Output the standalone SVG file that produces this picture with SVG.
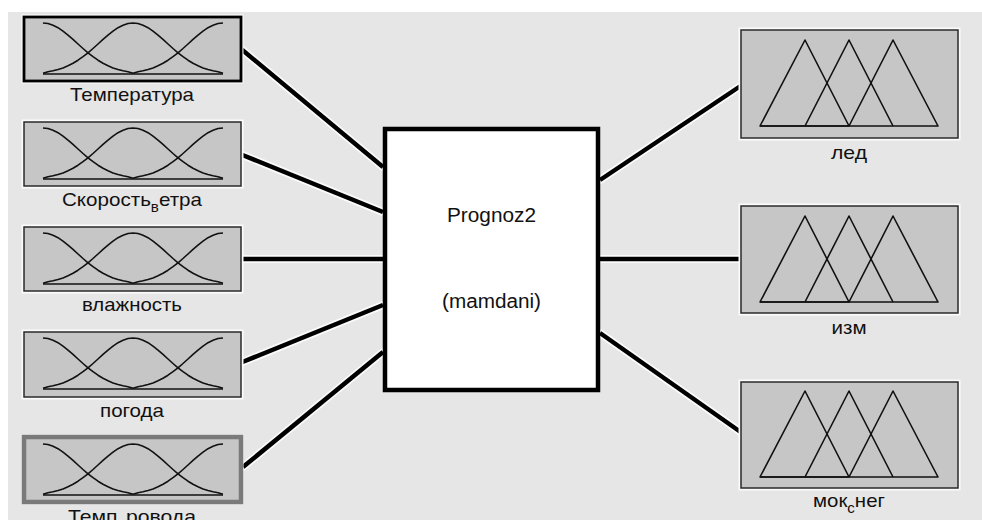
<svg xmlns="http://www.w3.org/2000/svg" width="982" height="520" viewBox="0 0 982 520">
<defs>
<style>
.bg{fill:#e6e6e6}
.in{fill:#c6c6c6;stroke:#2a2a2a;stroke-width:1.5}
.out{fill:#c6c6c6;stroke:#2a2a2a;stroke-width:1.5}
.halo{fill:none;stroke:#fbfbfb;stroke-width:5}
.mf{fill:none;stroke:#111;stroke-width:1.6;stroke-linejoin:round}
.lbl{font-family:"Liberation Sans",Arial,sans-serif;font-size:19px;fill:#111;text-anchor:middle}
.sub{font-size:14px}
.ctr{font-family:"Liberation Sans",Arial,sans-serif;font-size:20px;fill:#111;text-anchor:middle}
.wire-h{fill:none;stroke:#fbfbfb;stroke-width:8;stroke-linecap:round}
.wire{fill:none;stroke:#000;stroke-width:4.5}
</style>
<g id="gauss">
<path class="mf" d="M43,0 L48,0.55 L53,2.2 L58,4.7 L63,8.1 L68,12.1 L73,16.4 L78,21 L83,25.5 L88,29.8 L93,33.7 L98,37.2 L103,40.3 L108,42.8 L113,44.9 L118,46.5 L123,47.8 L128,48.8 L133,50.3"/>
<path class="mf" d="M43,50.3 L48,48.8 L53,47.8 L58,46.5 L63,44.9 L68,42.8 L73,40.3 L78,37.2 L83,33.7 L88,29.8 L93,25.5 L98,21 L103,16.4 L108,12.1 L113,8.1 L118,4.7 L123,2.2 L128,0.55 L133,0 L138,0.55 L143,2.2 L148,4.7 L153,8.1 L158,12.1 L163,16.4 L168,21 L173,25.5 L178,29.8 L183,33.7 L188,37.2 L193,40.3 L198,42.8 L203,44.9 L208,46.5 L213,47.8 L218,48.8 L223,50.3"/>
<path class="mf" d="M223,0 L218,0.55 L213,2.2 L208,4.7 L203,8.1 L198,12.1 L193,16.4 L188,21 L183,25.5 L178,29.8 L173,33.7 L168,37.2 L163,40.3 L158,42.8 L153,44.9 L148,46.5 L143,47.8 L138,48.8 L133,50.3"/>
<path class="mf" d="M43,51 H223"/>
</g>
<g id="tri">
<path class="mf" d="M760,86 L805,0 L849,86 Z"/>
<path class="mf" d="M805,86 L849,0 L893,86"/>
<path class="mf" d="M849,86 L893,0 L938,86 H760"/>
</g>
</defs>
<rect class="bg" x="8" y="12" width="974" height="508"/>

<g id="connectors">
<g class="wire-h">
<path d="M240,48 L383,167"/>
<path d="M240,154 L383,212"/>
<path d="M240,259 L383,259"/>
<path d="M240,363 L383,305"/>
<path d="M243,467 L383,352"/>
<path d="M600,180 L742,85"/>
<path d="M600,259 L742,259"/>
<path d="M600,333 L742,433"/>
</g>
<g class="wire">
<path d="M240,48 L383,167"/>
<path d="M240,154 L383,212"/>
<path d="M240,259 L383,259"/>
<path d="M240,363 L383,305"/>
<path d="M243,467 L383,352"/>
<path d="M600,180 L742,85"/>
<path d="M600,259 L742,259"/>
<path d="M600,333 L742,433"/>
</g>
</g>

<g id="in1">
<rect class="halo" x="24" y="17" width="217" height="64"/>
<rect class="in" x="24" y="17" width="217" height="64" style="stroke:#000;stroke-width:2.8"/>
<use href="#gauss" y="23"/>
<text class="lbl" x="132" y="101" textLength="124" lengthAdjust="spacingAndGlyphs">Температура</text>
</g>
<g id="in2">
<rect class="halo" x="24" y="122" width="217" height="64"/>
<rect class="in" x="24" y="122" width="217" height="64"/>
<use href="#gauss" y="128"/>
<text class="lbl" x="132" y="206" textLength="140" lengthAdjust="spacingAndGlyphs">Скорость<tspan class="sub" dy="6">в</tspan><tspan dy="-6">етра</tspan></text>
</g>
<g id="in3">
<rect class="halo" x="24" y="227" width="217" height="64"/>
<rect class="in" x="24" y="227" width="217" height="64"/>
<use href="#gauss" y="233"/>
<text class="lbl" x="132" y="311" textLength="100" lengthAdjust="spacingAndGlyphs">влажность</text>
</g>
<g id="in4">
<rect class="halo" x="24" y="332" width="217" height="65"/>
<rect class="in" x="24" y="332" width="217" height="65"/>
<use href="#gauss" y="338"/>
<text class="lbl" x="132" y="417" textLength="64" lengthAdjust="spacingAndGlyphs">погода</text>
</g>
<g id="in5">
<rect class="halo" x="24" y="437" width="217" height="65"/>
<rect class="in" x="24" y="437" width="217" height="65" style="stroke:#7a7a7a;stroke-width:4.5"/>
<use href="#gauss" y="444"/>
<text class="lbl" x="132" y="523" textLength="128" lengthAdjust="spacingAndGlyphs">Темп<tspan class="sub" dy="6">п</tspan><tspan dy="-6">ровода</tspan></text>
</g>

<g id="center">
<rect x="385" y="129" width="213" height="261" fill="#fff" stroke="#000" stroke-width="4.5"/>
<text class="ctr" x="491.5" y="222" textLength="89" lengthAdjust="spacingAndGlyphs">Prognoz2</text>
<text class="ctr" x="491.5" y="308" textLength="99" lengthAdjust="spacingAndGlyphs">(mamdani)</text>
</g>

<g id="out1">
<rect class="halo" x="741" y="30" width="217" height="108"/>
<rect class="out" x="741" y="30" width="217" height="108"/>
<use href="#tri" y="40"/>
<text class="lbl" x="849" y="159" textLength="36" lengthAdjust="spacingAndGlyphs">лед</text>
</g>
<g id="out2">
<rect class="halo" x="741" y="206" width="217" height="107"/>
<rect class="out" x="741" y="206" width="217" height="107"/>
<use href="#tri" y="216"/>
<text class="lbl" x="849" y="334" textLength="35" lengthAdjust="spacingAndGlyphs">изм</text>
</g>
<g id="out3">
<rect class="halo" x="741" y="382" width="217" height="106"/>
<rect class="out" x="741" y="382" width="217" height="106"/>
<use href="#tri" y="391"/>
<text class="lbl" x="849" y="507" textLength="72" lengthAdjust="spacingAndGlyphs">мок<tspan class="sub" dy="6">с</tspan><tspan dy="-6">нег</tspan></text>
</g>
</svg>
